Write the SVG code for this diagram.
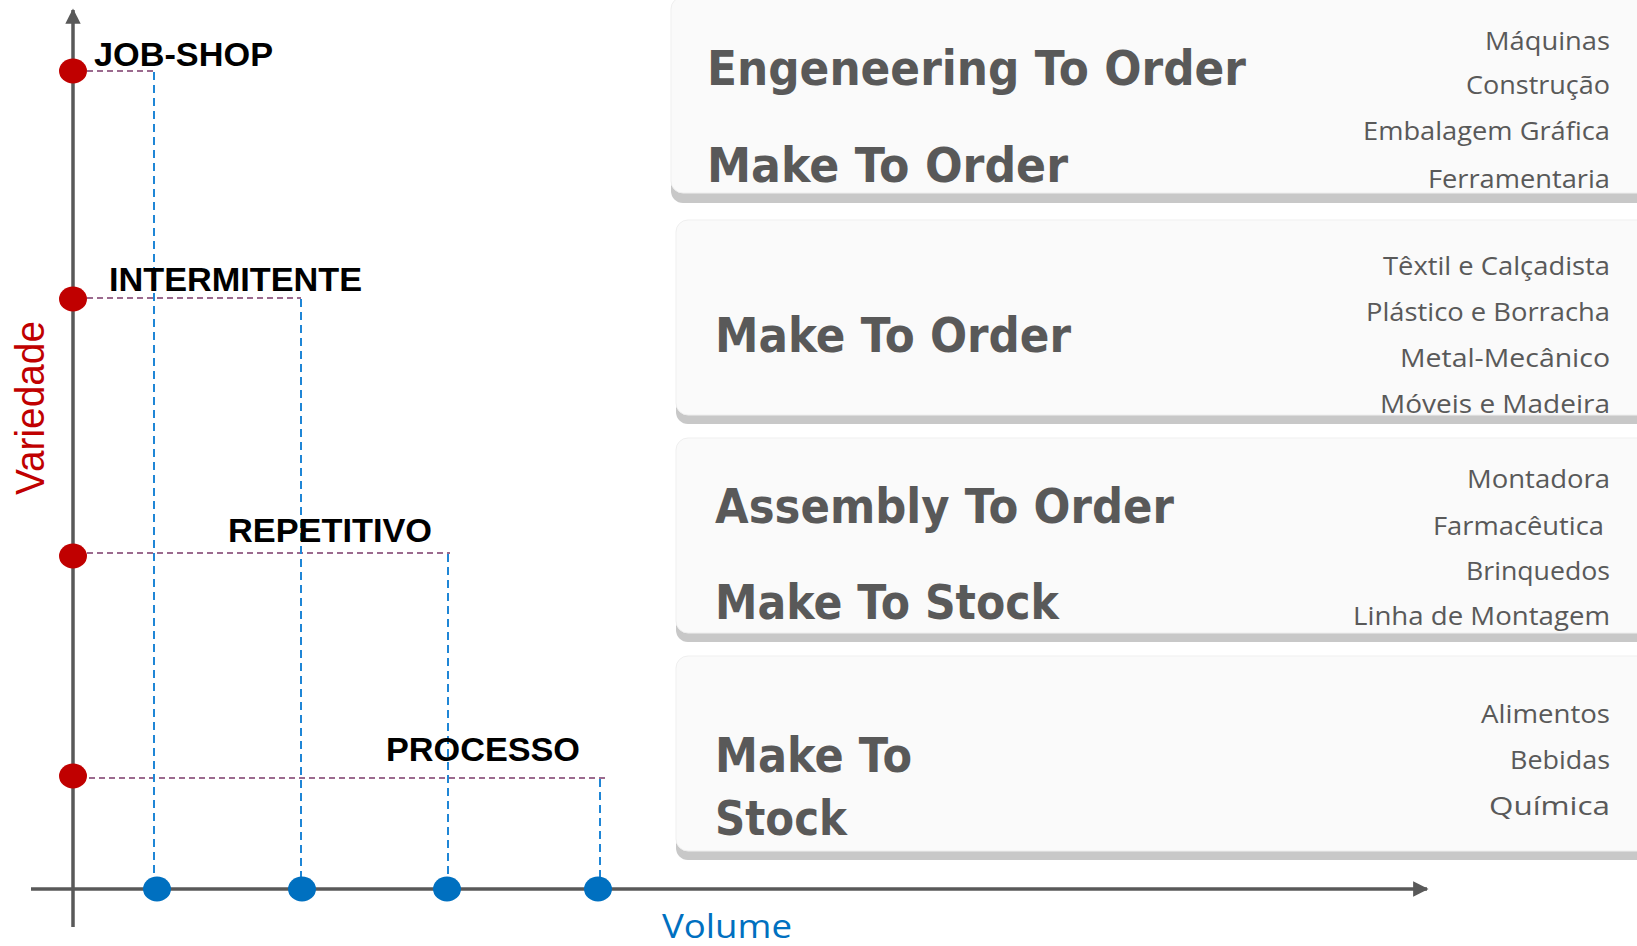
<svg xmlns="http://www.w3.org/2000/svg" width="1637" height="946" viewBox="0 0 1637 946">
  <style>
    .panel { fill: #fafafa; stroke: #efefef; stroke-width: 1; }
    .shadow { fill: #c8c8c8; }
    .title { font-family: "DejaVu Sans", Verdana, sans-serif; font-weight: bold; font-size: 48px; fill: #595959; }
    .item { font-family: "Open Sans", "Noto Sans", sans-serif; font-size: 25.5px; fill: #595959; }
    .cat { font-family: "Liberation Sans", Arial, sans-serif; font-weight: bold; font-size: 33px; fill: #000000; }
    .axis { stroke: #595959; stroke-width: 3.5; fill: none; }
    .hdash { stroke: #7b3a6a; stroke-width: 1.6; stroke-dasharray: 6 4; fill: none; }
    .vdash { stroke: #1f86d6; stroke-width: 2; stroke-dasharray: 8 5; fill: none; }
    .rdot { fill: #c00000; }
    .bdot { fill: #0070c0; }
  </style>
  <defs>
    <marker id="arrow" viewBox="0 0 10 10" refX="9" refY="5" markerWidth="4.4" markerHeight="4.4" orient="auto" markerUnits="strokeWidth">
      <path d="M0,0 L10,5 L0,10 z" fill="#595959"/>
    </marker>
  </defs>

  <rect width="1637" height="946" fill="#ffffff"/>

  <!-- panels -->
  <g id="panel-eto">
    <rect class="shadow" x="671" y="4" width="980" height="199" rx="12"/>
    <rect class="panel" x="671" y="-3" width="980" height="196" rx="12"/>
    <text class="title" x="707" y="85" textLength="539" lengthAdjust="spacingAndGlyphs">Engeneering To Order</text>
    <text class="title" x="707" y="182" textLength="361" lengthAdjust="spacingAndGlyphs">Make To Order</text>
    <text class="item" x="1485" y="50" textLength="125" lengthAdjust="spacingAndGlyphs">Máquinas</text>
    <text class="item" x="1466" y="94" textLength="144" lengthAdjust="spacingAndGlyphs">Construção</text>
    <text class="item" x="1363" y="140" textLength="247" lengthAdjust="spacingAndGlyphs">Embalagem Gráfica</text>
    <text class="item" x="1428" y="188" textLength="182" lengthAdjust="spacingAndGlyphs">Ferramentaria</text>
  </g>

  <g id="panel-mto">
    <rect class="shadow" x="676" y="228" width="975" height="196" rx="12"/>
    <rect class="panel" x="676" y="220" width="975" height="195" rx="12"/>
    <text class="title" x="715" y="352" textLength="356" lengthAdjust="spacingAndGlyphs">Make To Order</text>
    <text class="item" x="1383" y="275" textLength="227" lengthAdjust="spacingAndGlyphs">Têxtil e Calçadista</text>
    <text class="item" x="1366" y="321" textLength="244" lengthAdjust="spacingAndGlyphs">Plástico e Borracha</text>
    <text class="item" x="1400" y="367" textLength="210" lengthAdjust="spacingAndGlyphs">Metal-Mecânico</text>
    <text class="item" x="1380" y="413" textLength="230" lengthAdjust="spacingAndGlyphs">Móveis e Madeira</text>
  </g>

  <g id="panel-ato">
    <rect class="shadow" x="676" y="446" width="975" height="196" rx="12"/>
    <rect class="panel" x="676" y="438" width="975" height="195" rx="12"/>
    <text class="title" x="715" y="523" textLength="459" lengthAdjust="spacingAndGlyphs">Assembly To Order</text>
    <text class="title" x="715" y="619" textLength="344" lengthAdjust="spacingAndGlyphs">Make To Stock</text>
    <text class="item" x="1467" y="488" textLength="143" lengthAdjust="spacingAndGlyphs">Montadora</text>
    <text class="item" x="1433" y="535" textLength="171" lengthAdjust="spacingAndGlyphs">Farmacêutica</text>
    <text class="item" x="1466" y="580" textLength="144" lengthAdjust="spacingAndGlyphs">Brinquedos</text>
    <text class="item" x="1353" y="625" textLength="257" lengthAdjust="spacingAndGlyphs">Linha de Montagem</text>
  </g>

  <g id="panel-mts">
    <rect class="shadow" x="676" y="664" width="975" height="196" rx="12"/>
    <rect class="panel" x="676" y="656" width="975" height="195" rx="12"/>
    <text class="title" x="715" y="772" textLength="197" lengthAdjust="spacingAndGlyphs">Make To</text>
    <text class="title" x="715" y="835" textLength="132" lengthAdjust="spacingAndGlyphs">Stock</text>
    <text class="item" x="1481" y="723" textLength="129" lengthAdjust="spacingAndGlyphs">Alimentos</text>
    <text class="item" x="1510" y="769" textLength="100" lengthAdjust="spacingAndGlyphs">Bebidas</text>
    <text class="item" x="1489" y="815" textLength="121" lengthAdjust="spacingAndGlyphs">Química</text>
  </g>

  <!-- axes -->
  <g id="axes">
    <line class="axis" x1="73" y1="927" x2="73" y2="10" marker-end="url(#arrow)"/>
    <line class="axis" x1="31" y1="889" x2="1427" y2="889" marker-end="url(#arrow)"/>
    <text x="44" y="495" transform="rotate(-90 44 495)" font-family="Liberation Sans, Arial, sans-serif" font-size="40" fill="#c00000" textLength="174" lengthAdjust="spacingAndGlyphs">Variedade</text>
    <text x="662" y="938" font-family="Open Sans, Noto Sans, sans-serif" font-size="32" fill="#0070c0" textLength="130" lengthAdjust="spacingAndGlyphs">Volume</text>
  </g>

  <!-- connectors -->
  <g id="connectors">
    <line class="hdash" x1="87" y1="71" x2="155" y2="71"/>
    <line class="hdash" x1="87" y1="298" x2="301" y2="298"/>
    <line class="hdash" x1="87" y1="553" x2="450" y2="553"/>
    <line class="hdash" x1="89" y1="778" x2="607" y2="778"/>
    <line class="vdash" x1="154" y1="72" x2="154" y2="878"/>
    <line class="vdash" x1="301" y1="299" x2="301" y2="878"/>
    <line class="vdash" x1="448" y1="554" x2="448" y2="878"/>
    <line class="vdash" x1="600" y1="779" x2="600" y2="878"/>
  </g>

  <!-- category nodes -->
  <g id="job-shop">
    <ellipse class="rdot" cx="73" cy="71" rx="14" ry="12.5"/>
    <ellipse class="bdot" cx="157" cy="889" rx="14" ry="12.5"/>
    <text class="cat" x="94" y="66" textLength="179" lengthAdjust="spacingAndGlyphs">JOB-SHOP</text>
  </g>
  <g id="intermitente">
    <ellipse class="rdot" cx="73" cy="299" rx="14" ry="12.5"/>
    <ellipse class="bdot" cx="302" cy="889" rx="14" ry="12.5"/>
    <text class="cat" x="109" y="291" textLength="253" lengthAdjust="spacingAndGlyphs">INTERMITENTE</text>
  </g>
  <g id="repetitivo">
    <ellipse class="rdot" cx="73" cy="556" rx="14" ry="12.5"/>
    <ellipse class="bdot" cx="447" cy="889" rx="14" ry="12.5"/>
    <text class="cat" x="228" y="542" textLength="204" lengthAdjust="spacingAndGlyphs">REPETITIVO</text>
  </g>
  <g id="processo">
    <ellipse class="rdot" cx="73" cy="776" rx="14" ry="12.5"/>
    <ellipse class="bdot" cx="598" cy="889" rx="14" ry="12.5"/>
    <text class="cat" x="386" y="761" textLength="194" lengthAdjust="spacingAndGlyphs">PROCESSO</text>
  </g>
</svg>
